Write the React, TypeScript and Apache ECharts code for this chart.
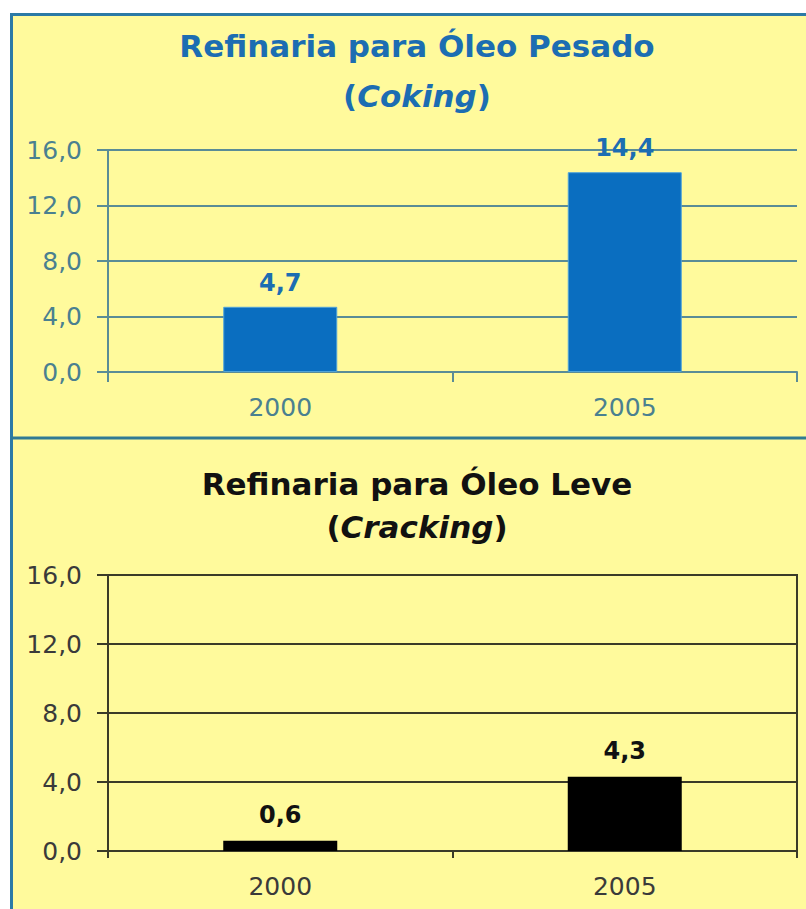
import React, { useEffect, useRef } from "react";
import * as echarts from "echarts";

const years = ["2000", "2005"];
const cokingValues = [4.7, 14.4];
const crackingValues = [0.6, 4.3];
const yMin = 0;
const yMax = 16;
const yInterval = 4;

const topTitle = "Refinaria para Óleo Pesado";
const topSub = "Coking";
const bottomTitle = "Refinaria para Óleo Leve";
const bottomSub = "Cracking";

const FONT = "DejaVu Sans";
const BG = "#FFFA9C";
const BLUE = "#1C6DB2";
const TEAL_TXT = "#4A8090";
const TEAL_LINE = "#5A8C96";
const DARK_LINE = "#3A3A28";
const DARK_TXT = "#3A3A3A";

const comma = (v: number) => v.toFixed(1).replace(".", ",");

export default function App() {
  const ref = useRef<HTMLDivElement>(null);
  useEffect(() => {
    if (!ref.current) return;
    const chart = echarts.init(ref.current, undefined, { renderer: "svg" });
    const titleBase = (text: string, top: number, color: string, sub: boolean) => ({
      text: sub ? `(${"{i|" + text + "}"})` : text,
      left: 417,
      top,
      textAlign: "center",
      padding: 0,
      textStyle: {
        fontFamily: FONT,
        fontWeight: "bold",
        fontSize: 31,
        lineHeight: 34,
        color,
        rich: {
          i: {
            fontFamily: FONT,
            fontWeight: "bold",
            fontStyle: "italic",
            fontSize: 31,
            lineHeight: 34,
            color,
          },
        },
      },
    });
    const xAxisBase = (gridIndex: number, lineColor: string, txtColor: string, tickLen: number) => ({
      type: "category",
      gridIndex,
      data: years,
      axisLine: { show: true, lineStyle: { color: lineColor, width: 2 } },
      axisTick: { show: true, length: tickLen, lineStyle: { color: lineColor, width: 2 } },
      axisLabel: { color: txtColor, fontFamily: FONT, fontSize: 25, margin: 23 },
    });
    const yAxisBase = (gridIndex: number, lineColor: string, txtColor: string) => ({
      type: "value",
      gridIndex,
      min: yMin,
      max: yMax,
      interval: yInterval,
      axisLine: { show: true, lineStyle: { color: lineColor, width: 2 } },
      axisTick: { show: true, length: 11, lineStyle: { color: lineColor, width: 2 } },
      axisLabel: {
        color: txtColor,
        fontFamily: FONT,
        fontSize: 25,
        margin: 26,
        formatter: (v: number) => comma(v),
      },
      splitLine: { show: true, lineStyle: { color: lineColor, width: 2 } },
    });
    chart.setOption({
      animation: false,
      backgroundColor: "#FFFFFF",
      graphic: [
        {
          type: "rect",
          z: -10,
          shape: { x: 11.5, y: 14.5, width: 820, height: 920 },
          style: { fill: BG, stroke: "#2B7AA6", lineWidth: 3 },
        },
        {
          type: "line",
          z: -5,
          shape: { x1: 11, y1: 438, x2: 806, y2: 438 },
          style: { stroke: "#2F7A94", lineWidth: 3 },
        },
      ],
      title: [
        titleBase(topTitle, 29, BLUE, false),
        titleBase(topSub, 79, BLUE, true),
        titleBase(bottomTitle, 467, "#111111", false),
        titleBase(bottomSub, 510, "#111111", true),
      ],
      grid: [
        { left: 108, right: 9, top: 150, height: 222 },
        {
          left: 108,
          right: 9,
          top: 575,
          height: 276,
          show: true,
          backgroundColor: "transparent",
          borderColor: DARK_LINE,
          borderWidth: 2,
        },
      ],
      xAxis: [
        xAxisBase(0, TEAL_LINE, TEAL_TXT, 10),
        xAxisBase(1, DARK_LINE, DARK_TXT, 7),
      ],
      yAxis: [yAxisBase(0, TEAL_LINE, TEAL_TXT), yAxisBase(1, DARK_LINE, DARK_TXT)],
      series: [
        {
          type: "bar",
          xAxisIndex: 0,
          yAxisIndex: 0,
          data: cokingValues,
          barWidth: 114,
          itemStyle: { color: "#0A6EC0", borderColor: "#4FA3D8", borderWidth: 1 },
          label: {
            show: true,
            position: "top",
            distance: 12,
            color: BLUE,
            fontFamily: FONT,
            fontWeight: "bold",
            fontSize: 24,
            formatter: (p: any) => comma(p.value),
          },
        },
        {
          type: "bar",
          xAxisIndex: 1,
          yAxisIndex: 1,
          data: crackingValues,
          barWidth: 114,
          itemStyle: { color: "#000000" },
          label: {
            show: true,
            position: "top",
            distance: 14,
            color: "#111111",
            fontFamily: FONT,
            fontWeight: "bold",
            fontSize: 24,
            formatter: (p: any) => comma(p.value),
          },
        },
      ],
    });
    return () => chart.dispose();
  }, []);
  return (
    <div
      ref={ref}
      style={{ position: "fixed", left: 0, top: 0, width: 806, height: 909 }}
    />
  );
}
